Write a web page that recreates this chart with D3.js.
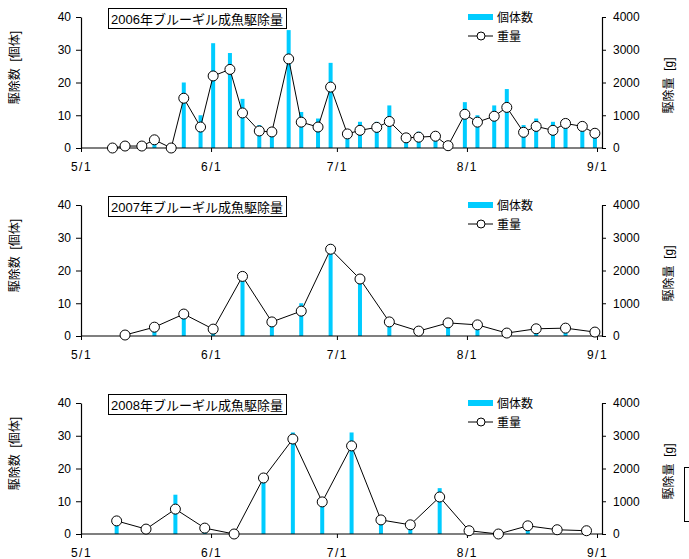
<!DOCTYPE html>
<html><head><meta charset="utf-8">
<script src="https://cdn.jsdelivr.net/npm/d3@7"></script>
<style>
html,body{margin:0;padding:0;background:#fff;}
svg{display:block;}
text{font-family:"Liberation Sans",Arial,"Noto Sans CJK JP",sans-serif;fill:#000;}
</style></head>
<body><svg id="c" width="689" height="559"></svg>
<script>
// ---- data ----
const dates2006 = ["05-08","05-11","05-15","05-18","05-22","05-25","05-29","06-01","06-05","06-08","06-12","06-15","06-19","06-22","06-26","06-29","07-03","07-06","07-10","07-13","07-17","07-20","07-24","07-27","07-31","08-03","08-07","08-10","08-14","08-17","08-21","08-24","08-28","08-31"];
const count2006 = [0,0,0,2,0,20,10,32,29,15,7,6,36,11,9,26,4,8,8,13,3,5,4,0,14,10,13,18,7,9,8,7,6,4];
const weight2006 = [0,60,60,250,0,1520,640,2200,2400,1070,520,490,2720,790,640,1860,430,540,630,810,310,330,360,70,1030,790,970,1240,480,660,540,750,660,450];

const dates2007 = ["05-11","05-18","05-25","06-01","06-08","06-15","06-22","06-29","07-06","07-13","07-20","07-27","08-03","08-10","08-17","08-24","08-31"];
const count2007 = [0,2,7,2,17,3,10,28,16,3,0,3,2,0,1,1,0];
const weight2007 = [30,270,670,210,1820,430,760,2650,1740,430,150,400,340,90,220,240,120];

const dates2008 = ["05-09","05-16","05-23","05-30","06-06","06-13","06-20","06-27","07-04","07-11","07-18","07-25","08-01","08-08","08-15","08-22","08-29"];
const count2008 = [3,0,12,1,0,16,31,9,31,3,4,14,0,0,1,0,0];
const weight2008 = [400,150,760,180,0,1710,2900,980,2690,430,280,1130,100,0,250,130,100];

const years = ["2006","2007","2008"];
const titles = ["2006年ブルーギル成魚駆除量","2007年ブルーギル成魚駆除量","2008年ブルーギル成魚駆除量"];
const countTicks = [0,10,20,30,40];
const weightTicks = [0,1000,2000,3000,4000];
const monthTicks = ["05-01","06-01","07-01","08-01","09-01"];
const leftLabel = "駆除数\u00A0\u00A0[個体]";
const rightLabel = "駆除量\u00A0\u00A0[g]";
const legendLabels = ["個体数","重量"];

const panelsData = [
  {dates:dates2006, counts:count2006, weights:weight2006},
  {dates:dates2007, counts:count2007, weights:weight2007},
  {dates:dates2008, counts:count2008, weights:weight2008}
];

// ---- layout ----
const svg = d3.select("#c");
const tops = [17,205,403];
const H = 131;
const x0 = 81, x1 = 597, xRightAxis = 602;
const barColor = "#00CCFF";
const parse = d3.timeParse("%Y-%m-%d");

panelsData.forEach((pd, i) => {
  const yr = years[i];
  const top = tops[i], bottom = top + H;
  const x = d3.scaleTime().domain([parse(yr+"-05-01"), parse(yr+"-09-01")]).range([x0, x1]);
  const yC = d3.scaleLinear().domain([0,40]).range([bottom, top]);
  const yW = d3.scaleLinear().domain([0,4000]).range([bottom, top]);
  const pos = d => x(d3.timeHour.offset(parse(yr+"-"+d), 12));

  const g = svg.append("g");

  // bars
  g.selectAll("rect.bar").data(pd.dates).join("rect")
    .attr("class","bar")
    .attr("x", d => pos(d) - 2)
    .attr("width", 4)
    .attr("y", (d,j) => yC(pd.counts[j]))
    .attr("height", (d,j) => bottom - yC(pd.counts[j]))
    .attr("fill", barColor);

  // x axis
  const xa = g.append("g").attr("transform",`translate(0,${bottom})`)
    .call(d3.axisBottom(x).tickValues(monthTicks.map(m => parse(yr+"-"+m)))
      .tickFormat(d3.timeFormat("%-m/%-d")).tickSize(4).tickSizeOuter(0).tickPadding(10));
  xa.select(".domain").remove();
  xa.selectAll("text").attr("font-size",12).attr("letter-spacing","1.5px")
    .attr("font-family",'"Liberation Sans",Arial,sans-serif');
  xa.selectAll("line").attr("stroke","#000");
  g.append("line").attr("x1",x0).attr("x2",xRightAxis+1).attr("y1",bottom).attr("y2",bottom)
    .attr("stroke","#000").attr("stroke-width",1.2);

  // left axis
  const la = g.append("g").attr("transform",`translate(${x0},0)`)
    .call(d3.axisLeft(yC).tickValues(countTicks).tickSize(5).tickSizeOuter(0).tickPadding(5));
  la.selectAll("text").attr("font-size",12);
  la.select(".domain").attr("stroke","#000").attr("stroke-width",1.2);

  // right axis
  const ra = g.append("g").attr("transform",`translate(${xRightAxis},0)`)
    .call(d3.axisRight(yW).tickValues(weightTicks).tickFormat(d3.format("d")).tickSize(4).tickSizeOuter(0).tickPadding(7));
  ra.selectAll("text").attr("font-size",12);
  ra.select(".domain").attr("stroke","#000").attr("stroke-width",1.2);

  // line + markers
  const line = d3.line().x(d => pos(d)).y((d,j) => yW(pd.weights[j]));
  g.append("path").datum(pd.dates).attr("d", line)
    .attr("fill","none").attr("stroke","#000").attr("stroke-width",1);
  g.selectAll("circle.pt").data(pd.dates).join("circle")
    .attr("class","pt")
    .attr("cx", d => pos(d))
    .attr("cy", (d,j) => yW(pd.weights[j]))
    .attr("r", 5)
    .attr("fill","#fff").attr("stroke","#000").attr("stroke-width",1);

  // title box
  g.append("rect").attr("x",108.5).attr("y",top-8.5).attr("width",178).attr("height",20)
    .attr("fill","#fff").attr("stroke","#000").attr("stroke-width",1);
  g.append("text").attr("x",197).attr("y",top+6.5).attr("text-anchor","middle")
    .attr("font-size",13).text(titles[i]);

  // legend
  g.append("rect").attr("x",468).attr("y",top-3).attr("width",25).attr("height",6).attr("fill",barColor);
  g.append("text").attr("x",497).attr("y",top+5).attr("font-size",12).text(legendLabels[0]);
  g.append("line").attr("x1",468).attr("x2",493).attr("y1",top+19).attr("y2",top+19)
    .attr("stroke","#000").attr("stroke-width",1);
  g.append("circle").attr("cx",481).attr("cy",top+19).attr("r",4)
    .attr("fill","#fff").attr("stroke","#000");
  g.append("text").attr("x",497).attr("y",top+24).attr("font-size",12).text(legendLabels[1]);

  // axis titles
  const lc = (top+bottom)/2 - 15;
  g.append("text").attr("transform",`translate(19,${lc}) rotate(-90)`)
    .attr("text-anchor","middle").attr("font-size",12).text(leftLabel);
  const rc = (top+bottom)/2 + 3;
  g.append("text").attr("transform",`translate(673,${rc}) rotate(-90)`)
    .attr("text-anchor","middle").attr("font-size",12).text(rightLabel);
});

// partial box at right edge
svg.append("rect").attr("x",684.5).attr("y",467.5).attr("width",20).attr("height",54)
  .attr("fill","#fff").attr("stroke","#000");
</script>
</body></html>
